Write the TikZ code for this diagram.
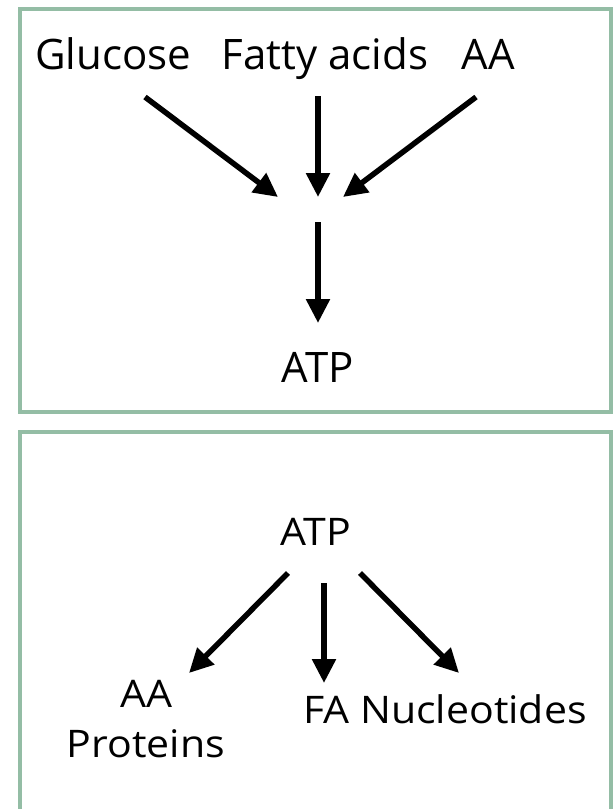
\documentclass[tikz,border=0pt]{standalone}
\usepackage{fontspec}
\setmainfont{Open Sans}
\newfontfamily\lowpanelfont[FakeStretch=1.08]{Open Sans}
\usetikzlibrary{arrows.meta}
\definecolor{framegreen}{RGB}{148,189,165}
\tikzset{
  panel/.style={draw=framegreen, line width=4pt},
  toplabel/.style={anchor=base, inner sep=0pt, font=\fontsize{42}{48}\selectfont},
  botlabel/.style={anchor=base, inner sep=0pt, font=\lowpanelfont\fontsize{38}{46}\selectfont},
  flow/.style={line width=5.5pt, -{Triangle[length=24pt,width=23pt]}}
}
\begin{document}
\begin{tikzpicture}[x=1pt, y=-1pt]
  \useasboundingbox[fill=white] (0,0) rectangle (614,809);
  % frames
  \draw[panel] (20,9) rectangle (611,412);
  \begin{scope}
    \clip (0,0) rectangle (614,809);
    \draw[panel] (20,432) rectangle (611,830);
  \end{scope}

  % upper panel: fuels to ATP
  \node[toplabel] (glu) at (113,69) {Glucose};
  \node[toplabel] (fat) at (325,69) {Fatty acids};
  \node[toplabel] (aa)  at (488,69) {AA};
  \node[toplabel] (atp1) at (318,382) {ATP};

  \coordinate (gluS) at (145,97);  \coordinate (gluE) at (278,197);
  \coordinate (fatS) at (318,96);  \coordinate (fatE) at (318,197);
  \coordinate (aaS)  at (476,97);  \coordinate (aaE)  at (343,197);
  \coordinate (midS) at (318,222); \coordinate (midE) at (318,323);

  \draw[flow] (gluS) -- (gluE);
  \draw[flow] (fatS) -- (fatE);
  \draw[flow] (aaS) -- (aaE);
  \draw[flow] (midS) -- (midE);

  % lower panel: ATP to products
  \node[botlabel] (atp2) at (316,545) {ATP};
  \node[botlabel] (aa2)  at (146,707) {AA};
  \node[botlabel] (prot) at (146,757) {Proteins};
  \node[botlabel] (nuc)  at (445,723) {FA Nucleotides};

  \coordinate (lS) at (288,573); \coordinate (lE) at (189,673);
  \coordinate (cS) at (324,583); \coordinate (cE) at (324,683);
  \coordinate (rS) at (360,573); \coordinate (rE) at (459,673);

  \draw[flow] (lS) -- (lE);
  \draw[flow] (cS) -- (cE);
  \draw[flow] (rS) -- (rE);
\end{tikzpicture}
\end{document}
